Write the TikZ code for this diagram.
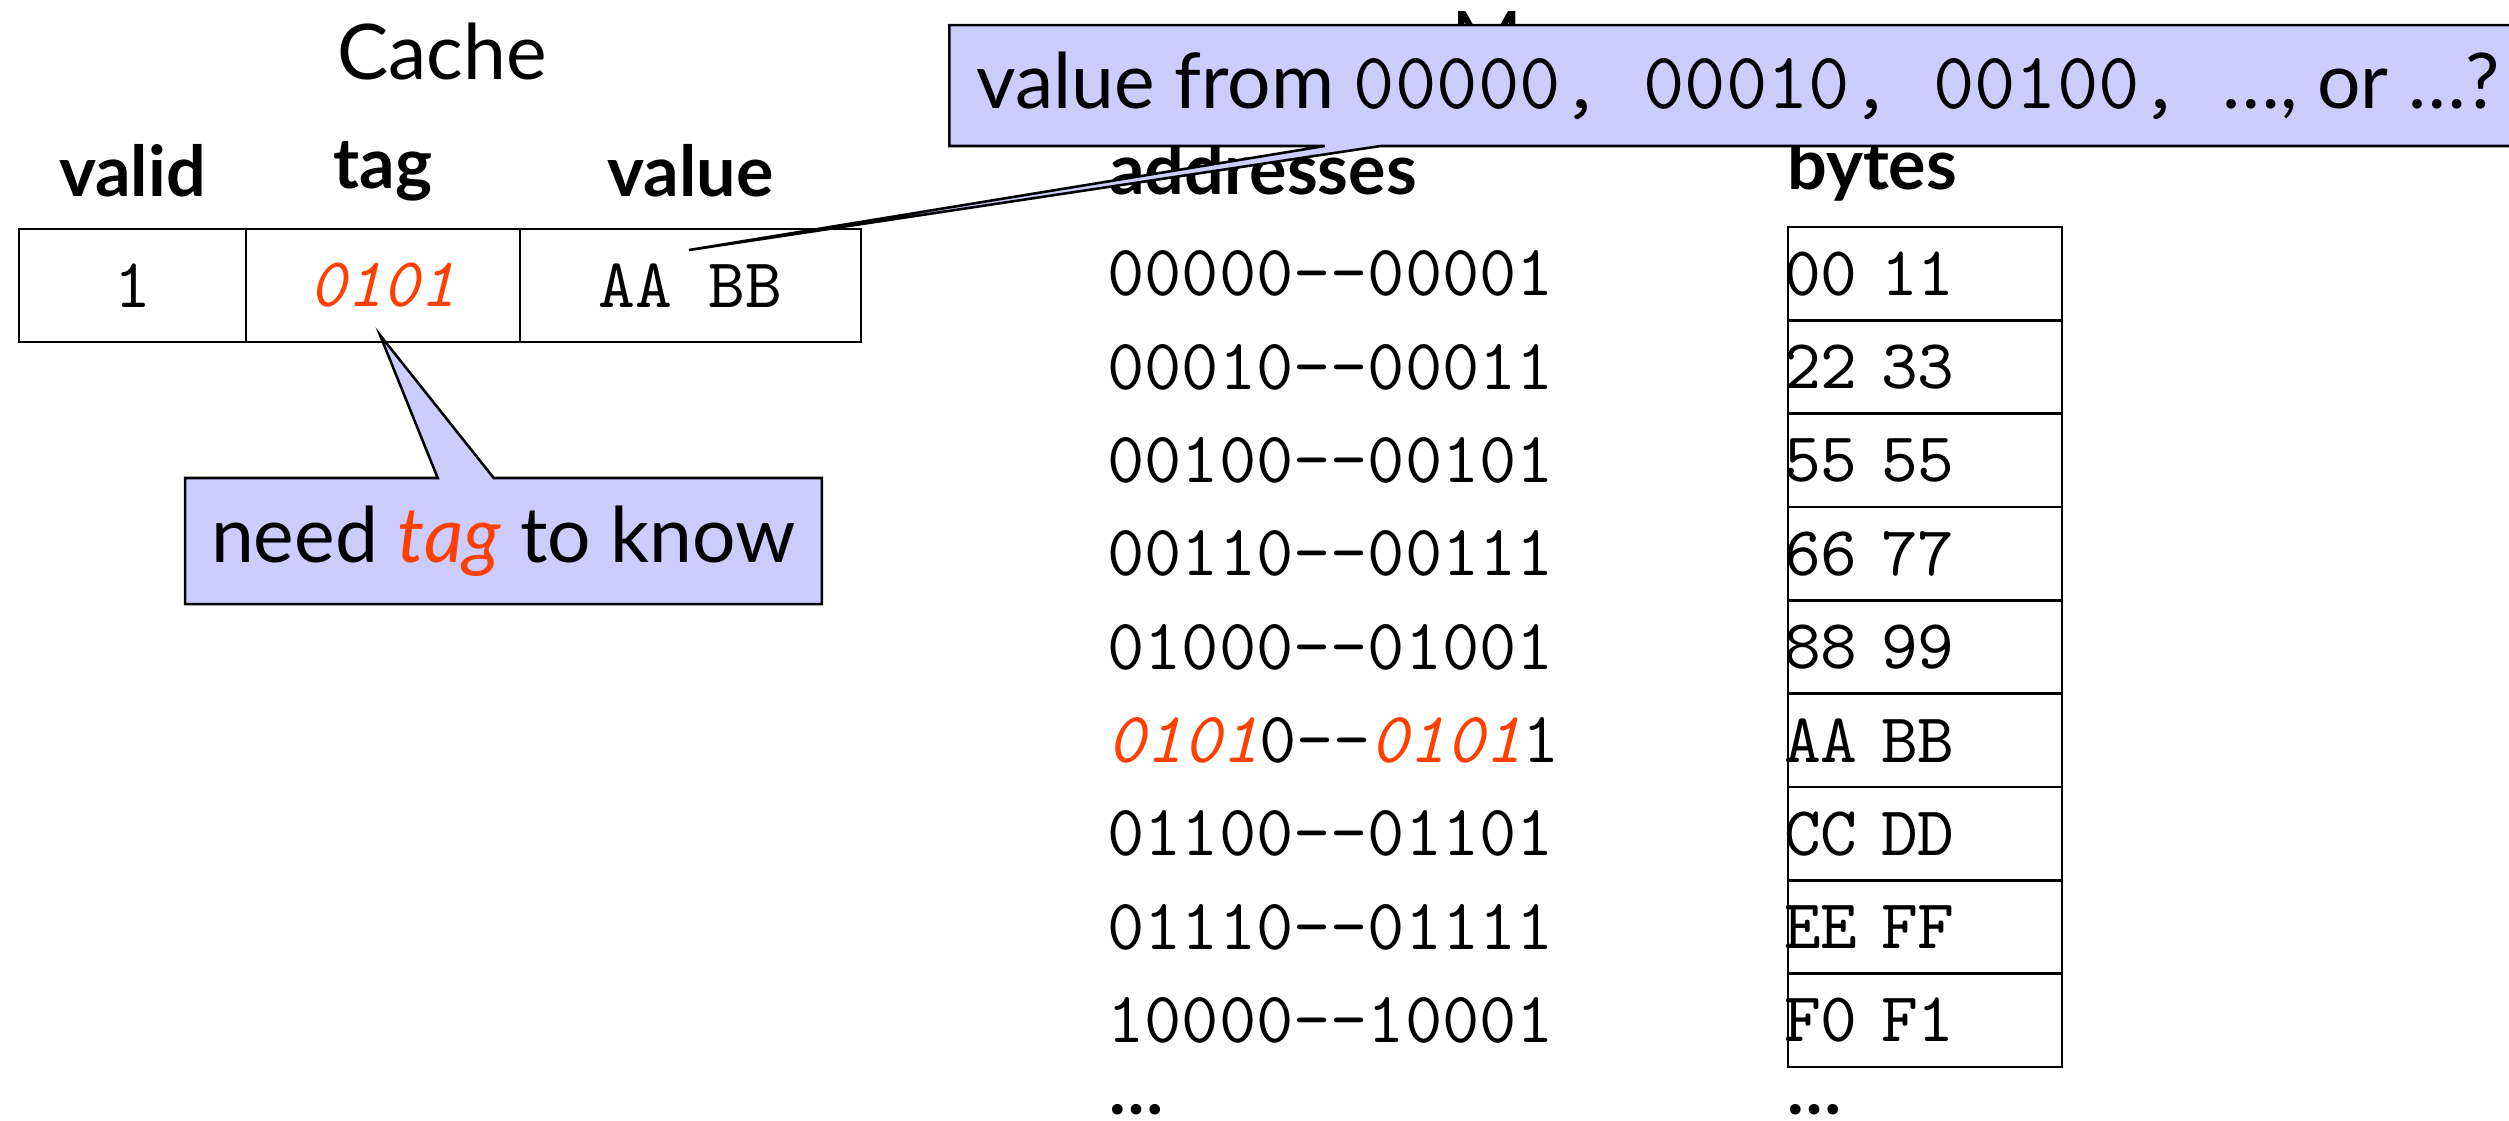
\documentclass[tikz,border=0pt]{standalone}
\usepackage{fontspec}
\setmainfont{Lato}
\setsansfont{Lato}
\usetikzlibrary{shapes.callouts}

\definecolor{hl}{RGB}{255,64,0}
\definecolor{notefill}{RGB}{204,204,255}

\newcommand\normsz{\fontsize{10.95}{13.6}\selectfont}
\newcommand\bigsz{\fontsize{12}{14.5}\selectfont}
\newcommand\addrsz{\fontsize{11.3}{14}\selectfont}
\newcommand\bigtt[1]{{\fontsize{12.55}{15}\selectfont\ttfamily #1}}
\newcommand\hltag[1]{{\color{hl}\itshape #1}}

\begin{document}
% 1 unit = one pixel of a 2509 x 1120 canvas
\begin{tikzpicture}[x=0.15625pt,y=-0.15625pt,
  every node/.style={font=\normsz},
  titletext/.style={font=\bigsz, anchor=base, inner sep=0pt},
  headtext/.style={font=\normsz\bfseries},
  memhead/.style={font=\normsz\bfseries, anchor=west, inner sep=0pt},
  cachecell/.style={draw, minimum height=17.66pt, inner sep=0pt, outer sep=0pt,
    font=\normsz\ttfamily},
  addr/.style={font=\addrsz\ttfamily, anchor=west, inner sep=0pt},
  bytebox/.style={draw, minimum width=42.81pt, minimum height=14.58pt,
    text width=42.81pt, align=left, inner sep=0pt, outer sep=0pt,
    font=\normsz\ttfamily},
  note/.style={rectangle callout, draw, fill=notefill, font=\bigsz,
    callout pointer width=8.75pt},
]
\useasboundingbox (0,0) rectangle (2509,1120);

% ---------- cache ----------
\node[titletext] (cachetitle) at (442,79) {Cache};

\node[headtext] (hvalid) at (132.5,171) {valid};
\node[headtext] (htag)   at (383,171)   {tag};
\node[headtext] (hvalue) at (690.5,171) {value};

\node[cachecell, minimum width=35.47pt] (c1) at (132.5,285.5) {1};
\node[cachecell, minimum width=42.81pt] (c2) at (383,285.5)   {\hltag{0101}};
\node[cachecell, minimum width=53.28pt] (c3) at (690.5,285.5) {AA BB};

% ---------- memory ----------
\node[font=\bigsz, anchor=base west, inner sep=0pt] (memtitle) at (1450,66) {Memory};

\node[memhead] (haddr)  at (1108,169) {addresses};
\node[memhead] (hbytes) at (1786,169) {bytes};

\foreach \k/\a/\b in {
    0/00000-{}-00001/00 11,
    1/00010-{}-00011/22 33,
    2/00100-{}-00101/55 55,
    3/00110-{}-00111/66 77,
    4/01000-{}-01001/88 99,
    5/\hltag{0101}0-{}-\hltag{0101}1/AA BB,
    6/01100-{}-01101/CC DD,
    7/01110-{}-01111/EE FF,
    8/10000-{}-10001/F0 F1}{
  \node[addr] (a\k) at (1106,273.67+93.33*\k) {\a};
  \node[bytebox] (b\k) at (1925,273.67+93.33*\k) {\hspace*{-0.6pt}\b};
}

\node[font=\normsz\bfseries, anchor=base west, inner sep=0pt] (adots) at (1108,1114) {…};
\node[font=\normsz\bfseries, anchor=base west, inner sep=0pt] (bdots) at (1786,1114) {…};

% ---------- callouts ----------
\coordinate (valtip) at (689,250);
\coordinate (tagtip) at (380,335);

\node[note, anchor=west, minimum height=18.9pt, inner xsep=4.2pt,
  callout absolute pointer={(valtip)}] (askvalue) at (948,85.5)
  {value from \bigtt{00000, 00010, 00100, }…, or …?};

\node[note, minimum width=99.5pt, minimum height=19.69pt,
  callout absolute pointer={(tagtip)}] (needtag) at (503.5,541)
  {need \hltag{tag} to know};
\end{tikzpicture}
\end{document}
